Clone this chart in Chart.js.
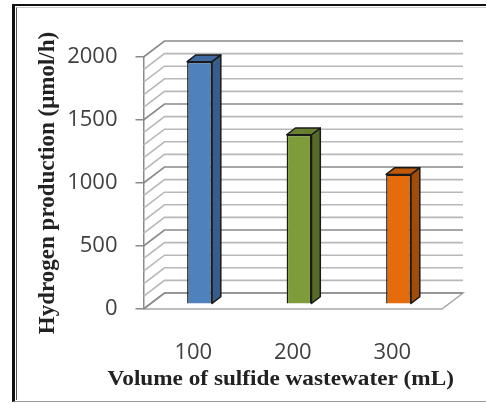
<!DOCTYPE html>
<html>
<head>
<meta charset="utf-8">
<script src="https://cdn.jsdelivr.net/npm/chart.js@4.4.0/dist/chart.umd.min.js"></script>
<style>
  body { margin: 0; background: #fff; }
  #wrap { position: relative; width: 486px; height: 403px; overflow: hidden; }
  #chart { position: absolute; left: 0; top: 0; }
  .frame1 { position: absolute; left: 12px; top: 4px; width: 490px; height: 395px;
            border-top: 2px solid #111; border-left: 3px solid #111; border-bottom: 1px solid #999; pointer-events: none; }
  .frame2 { position: absolute; left: 16px; top: 7px; width: 490px; height: 392px;
            border-left: 1px solid #555; border-top: 1px solid #ccc; pointer-events: none; }
</style>
</head>
<body>
<div id="wrap">
  <canvas id="chart" width="486" height="403"></canvas>
  <div class="frame1"></div>
  <div class="frame2"></div>
</div>
<script>
const volumes = ['100', '200', '300'];
const hydrogen = [1925, 1345, 1030];
const frontColors = ['#4f81bd', '#7f9c3b', '#e46c0a'];
const sideColors = ['#385d8a', '#566b27', '#a24d07'];
const topColors = ['#3f6aa0', '#687f30', '#c05a08'];
const yTicks = [0, 500, 1000, 1500, 2000];

// 3D look: depth of the back wall and of the bars
const WALL_DX = 21, WALL_DY = -16;
const SHIFT = 0.3, BAR_DEPTH = 0.42;
// x title in the picture is stretched wide and sits a bit left of centre
const XTITLE_STRETCH = 1.16, XTITLE_SHIFT = -12;

const walls3d = {
  id: 'walls3d',
  afterUpdate(chart) {
    const s = chart.scales.x;
    if (s && !s._stretched) {
      const orig = s.drawTitle.bind(s);
      s.drawTitle = function () {
        const ctx = chart.ctx;
        const cx = (s.left + s.right) / 2;
        ctx.save();
        ctx.translate(cx + XTITLE_SHIFT, 0);
        ctx.scale(XTITLE_STRETCH, 1);
        ctx.translate(-cx, 0);
        orig();
        ctx.restore();
      };
      s._stretched = true;
    }
  },
  beforeDatasetsDraw(chart) {
    const { ctx, chartArea: a, scales: { y } } = chart;
    ctx.save();
    ctx.lineCap = 'butt';
    // floor
    ctx.beginPath();
    ctx.moveTo(a.left, a.bottom);
    ctx.lineTo(a.right, a.bottom);
    ctx.lineTo(a.right + WALL_DX, a.bottom + WALL_DY);
    ctx.lineTo(a.left + WALL_DX, a.bottom + WALL_DY);
    ctx.closePath();
    ctx.fillStyle = '#fff';
    ctx.fill();
    ctx.strokeStyle = '#a8a8a8';
    ctx.lineWidth = 1.5;
    ctx.stroke();
    // grid lines: back wall + side wall, every 100
    for (let v = y.min; v <= y.max; v += 100) {
      const py = y.getPixelForValue(v);
      const major = v % 500 === 0;
      ctx.strokeStyle = major ? '#8a8a8a' : '#b8b8b8';
      ctx.lineWidth = 1.6;
      ctx.beginPath();
      ctx.moveTo(a.left, py);
      ctx.lineTo(a.left + WALL_DX, py + WALL_DY);
      ctx.lineTo(a.right + WALL_DX, py + WALL_DY);
      ctx.stroke();
    }
    ctx.restore();
    // bars sit a little behind the front plane
    ctx.save();
    ctx.translate(WALL_DX * SHIFT, WALL_DY * SHIFT);
  },
  afterDatasetsDraw(chart) {
    const { ctx } = chart;
    const dx = WALL_DX * BAR_DEPTH, dy = WALL_DY * BAR_DEPTH;
    chart.getDatasetMeta(0).data.forEach((bar, i) => {
      const { x, y, base, width } = bar.getProps(['x', 'y', 'base', 'width'], true);
      const l = x - width / 2, r = x + width / 2;
      ctx.lineJoin = 'round';
      ctx.strokeStyle = '#1a1a1a';
      ctx.lineWidth = 1.5;
      // side face
      ctx.beginPath();
      ctx.moveTo(r, y);
      ctx.lineTo(r + dx, y + dy);
      ctx.lineTo(r + dx, base + dy);
      ctx.lineTo(r, base);
      ctx.closePath();
      ctx.fillStyle = sideColors[i];
      ctx.fill();
      ctx.stroke();
      // top face
      ctx.beginPath();
      ctx.moveTo(l, y);
      ctx.lineTo(l + dx, y + dy);
      ctx.lineTo(r + dx, y + dy);
      ctx.lineTo(r, y);
      ctx.closePath();
      ctx.fillStyle = topColors[i];
      ctx.fill();
      ctx.stroke();
    });
    ctx.restore();
  }
};

new Chart(document.getElementById('chart').getContext('2d'), {
  type: 'bar',
  data: {
    labels: volumes,
    datasets: [{
      data: hydrogen,
      backgroundColor: frontColors,
      borderColor: '#1a1a1a',
      borderWidth: 1.5,
      barPercentage: 0.25,
      categoryPercentage: 1
    }]
  },
  options: {
    responsive: false,
    animation: false,
    layout: { padding: { left: 34, top: 57, right: 44, bottom: 10 } },
    plugins: { legend: { display: false }, tooltip: { enabled: false } },
    scales: {
      x: {
        offset: true,
        grid: { display: false, drawOnChartArea: false, drawTicks: false },
        border: { display: false },
        ticks: { padding: 31, color: '#404040', font: { family: 'Open Sans', size: 22 } },
        title: {
          display: true,
          text: 'Volume of sulfide wastewater (mL)',
          color: '#222',
          padding: 0,
          font: { family: 'Liberation Serif', size: 22, weight: 'bold' }
        },
        afterFit(scale) { scale.height = 84; }
      },
      y: {
        min: 0,
        max: 2000,
        afterBuildTicks(scale) { scale.ticks = yTicks.map(v => ({ value: v })); },
        grid: { drawOnChartArea: false, drawTicks: true, tickLength: 8, color: '#8a8a8a', lineWidth: 1.5 },
        border: { display: true, color: '#8a8a8a', width: 1.5 },
        ticks: {
          padding: 18,
          color: '#404040',
          font: { family: 'Open Sans', size: 22 },
          callback: v => String(v)
        },
        title: {
          display: true,
          text: 'Hydrogen production (μmol/h)',
          color: '#222',
          padding: 0,
          font: { family: 'Liberation Serif', size: 23, weight: 'bold' }
        },
        afterFit(scale) { scale.width = 109.5; }
      }
    }
  },
  plugins: [walls3d]
});
</script>
</body>
</html>
